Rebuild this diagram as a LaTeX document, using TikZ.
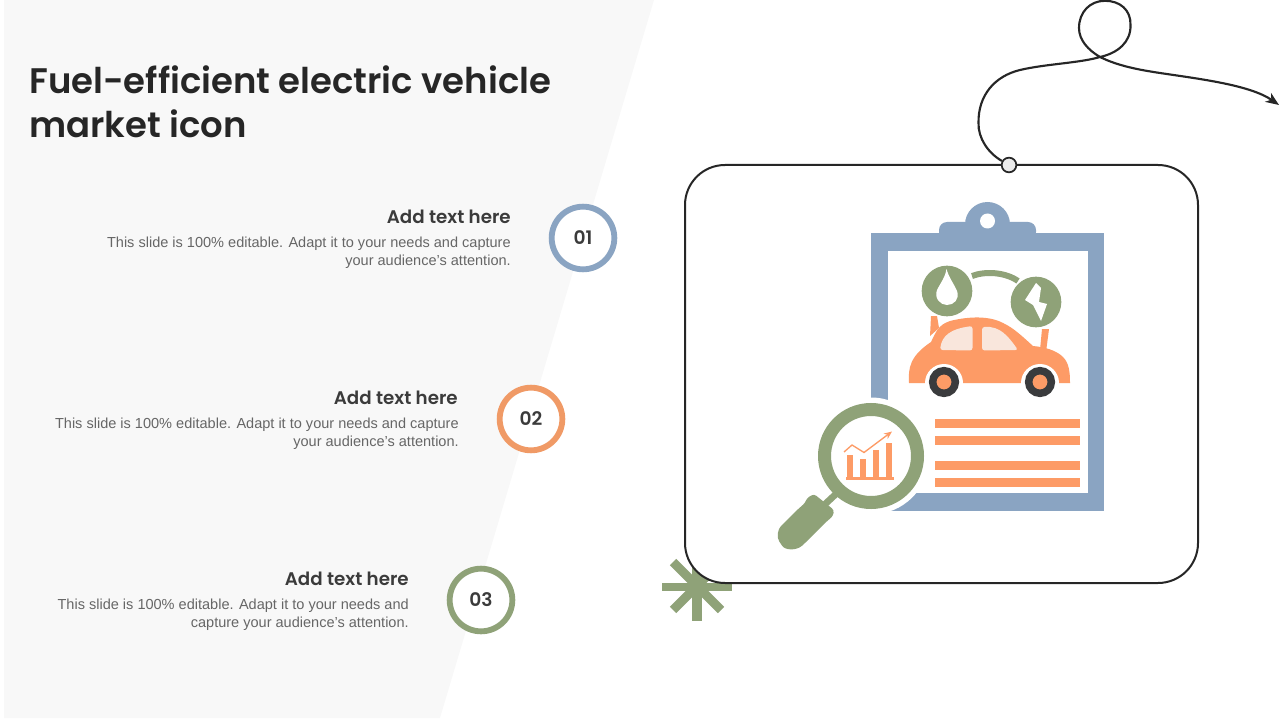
\documentclass[tikz,border=0pt]{standalone}
\usepackage{fontspec}
\setmainfont{Liberation Sans}
\newfontfamily\headfont{Poppins SemiBold}
\usetikzlibrary{calc}
\usetikzlibrary{positioning}
\usetikzlibrary{arrows.meta}
\definecolor{panelgray}{HTML}{F8F8F8}
\definecolor{inkdark}{HTML}{262626}
\definecolor{headgray}{HTML}{3B3B3B}
\definecolor{bodygray}{HTML}{666666}
\definecolor{softblue}{HTML}{8AA4C2}
\definecolor{softorange}{HTML}{F09A66}
\definecolor{softgreen}{HTML}{8FA278}
\definecolor{carorange}{HTML}{FD9B66}
\definecolor{glasspink}{HTML}{F9E6DC}
\definecolor{tiredark}{HTML}{3A3B3D}
\tikzstyle{numnode} = [draw, circle, fill=white, line width=4.4pt, minimum size=47pt, inner sep=0, text=headgray, font=\headfont\fontsize{14}{16}\selectfont]
\tikzstyle{headnode} = [anchor=east, inner sep=0, text=headgray, font=\headfont\fontsize{13.7}{16}\selectfont]
\tikzstyle{bodynode} = [anchor=north east, inner sep=0, align=right, text=bodygray, font=\fontsize{10.9}{13.6}\selectfont]
\tikzstyle{iconnode} = [circle, fill=softgreen, inner sep=0, minimum size=38pt]
\tikzstyle{tirenode} = [circle, draw=tiredark, fill=carorange, line width=5.6pt, minimum size=17pt, inner sep=0]
\tikzstyle{linebar} = [fill=carorange]
\tikzstyle{rope} = [draw=inkdark, line width=1.6pt]
\begin{document}
\begin{tikzpicture}[x=0.75pt,y=-0.75pt]
    \useasboundingbox (0,0) rectangle (1280,720);
    \fill[panelgray] (4,0) -- (654,0) -- (440,718) -- (4,718) -- cycle;

    \node[anchor=north west, inner sep=0, align=left, text=inkdark, font=\headfont\fontsize{26.6}{33.5}\selectfont] (title) at (29,65) {Fuel-efficient electric vehicle\\market icon};

    \node[numnode, draw=softblue] (num_a) at (583,238) {01};
    \node[numnode, draw=softorange] (num_b) at (531,419) {02};
    \node[numnode, draw=softgreen] (num_c) at (481,600) {03};

    \node[headnode] (head_a) at ($(num_a)+(-72,-21)$) {Add text here};
    \node[bodynode] (body_a) at ($(num_a)+(-72,-1)$) {This slide is 100\% editable. Adapt it to your needs and capture\\your audience’s attention.};
    \node[headnode] (head_b) at ($(num_b)+(-73,-21)$) {Add text here};
    \node[bodynode] (body_b) at ($(num_b)+(-72,-1)$) {This slide is 100\% editable. Adapt it to your needs and capture\\your audience’s attention.};
    \node[headnode] (head_c) at ($(num_c)+(-72,-21)$) {Add text here};
    \node[bodynode] (body_c) at ($(num_c)+(-72,-1)$) {This slide is 100\% editable. Adapt it to your needs and\\capture your audience’s attention.};

    \draw[softgreen, line width=6.6pt] (662,587) -- (732,587);
    \draw[softgreen, line width=6.8pt] (697,553) -- (697,621);
    \draw[softgreen, line width=6.8pt] (673,562) -- (721,610);
    \draw[softgreen, line width=6.8pt] (721,562) -- (673,610);
    \draw[inkdark, line width=1.5pt, fill=white, rounded corners=30pt] (685,165) rectangle (1198,583);

    \fill[softblue] (871,233) rectangle (1104,511);
    \fill[softblue, rounded corners=6pt] (939,240) -- (939,222) -- (1036,222) -- (1036,240) -- cycle;
    \fill[softblue] (987.5,224.5) circle [radius=22.5];
    \fill[white] (987.5,221) circle [radius=7.5];
    \fill[white] (888,251) rectangle (1088,493);

    \node[iconnode] (drop) at (947,291) {};
    \node[iconnode] (bolt) at (1036,302) {};
    \fill[white] (937,290) .. controls (941,282) and (945,278) .. (946.5,269) .. controls (949,278) and (953,282) .. (957,291) .. controls (960,299) and (954,305) .. (947,305) .. controls (940,305) and (934,298) .. (937,290) -- cycle;
    \fill[white] (1036,283) -- (1025,300) -- (1033,305) -- (1041,321) -- (1047,304) -- (1039,302) -- (1041,288) -- cycle;
    \draw[softgreen, line width=4.5pt] (972,276) .. controls (985,271) and (1005,272) .. (1018,281);

    \fill[carorange] (931,316) -- (937,316) -- (939,328) -- (930,336) -- cycle;
    \fill[carorange] (1042,329) -- (1049,329) -- (1046,352) -- (1040,350) -- cycle;
    \fill[carorange] (909,383) .. controls (908,368) and (910,356) .. (931,342) .. controls (936,332) and (938,325) .. (950,321) .. controls (970,316) and (990,316) .. (1003,323) .. controls (1014,328) and (1024,338) .. (1033,346) .. controls (1044,347) and (1056,350) .. (1063,357) .. controls (1069,363) and (1070,372) .. (1070,383) -- cycle;
    \fill[glasspink, rounded corners=2pt] (940,350) .. controls (942,336) and (950,329) .. (972.5,326) -- (972.5,350.5) -- cycle;
    \fill[glasspink, rounded corners=2pt] (982,327) .. controls (1000,326) and (1008,336) .. (1018,350) -- (982,350.5) -- cycle;
    \fill[white] (944,383) circle [radius=19];
    \fill[white] (1040,383) circle [radius=19];
    \fill[white] (920,383.5) rectangle (1064,400);
    \node[tirenode] (tire_a) at (944,382) {};
    \node[tirenode] (tire_b) at (1040,382) {};

    \fill[linebar] (935,419) rectangle (1080,428);
    \fill[linebar] (935,436) rectangle (1080,445);
    \fill[linebar] (935,461) rectangle (1080,470);
    \fill[linebar] (935,478) rectangle (1080,487);

    \fill[white] (871,456) circle [radius=58.5];
    \draw[softgreen, line width=9.75pt, fill=white] (871,456) circle [radius=46.5];
    \draw[softgreen, line width=5pt] (837,493) -- (822,507);
    \fill[softgreen, rounded corners=2pt] (814,494) -- (834,510) -- (833,516) -- (825,523) -- (804,544) .. controls (796,551) and (785,550) .. (781,544) .. controls (776,537) and (778,529) .. (783,524) -- (796,511) -- (805,503) -- (807,498) -- cycle;

    \fill[carorange] (847,455) rectangle (853,478);
    \fill[carorange] (860,459) rectangle (866,478);
    \fill[carorange] (873,450) rectangle (879,478);
    \fill[carorange] (886,443) rectangle (892,478);
    \fill[carorange] (846,477) rectangle (894,479.5);
    \draw[carorange, line width=1pt, -{Stealth[length=6pt, width=5pt, inset=2pt]}] (844,452) -- (852,445) -- (864,452.5) -- (892,431.5);

    \node[draw=inkdark, line width=1.3pt, circle, fill=black!8, minimum size=11pt, inner sep=0] (pin) at (1009,165) {};
    \coordinate (rope_end) at (1279,105);
    \draw[rope, -{Stealth[length=10pt, width=8pt, inset=3pt]}] (pin) .. controls (988,153) and (978,138) .. (978.5,123) .. controls (978,95) and (995,76) .. (1020,70) .. controls (1045,64) and (1080,63) .. (1100,57) .. controls (1118,53) and (1131,42) .. (1130.5,25) .. controls (1131,10) and (1120,0.8) .. (1105,0.8) .. controls (1090,0.8) and (1079,12) .. (1079,28) .. controls (1079,40) and (1088,50) .. (1100,57) .. controls (1118,66) and (1140,70) .. (1160,73) .. controls (1200,79) and (1250,85) .. (rope_end);
\end{tikzpicture}
\end{document}
